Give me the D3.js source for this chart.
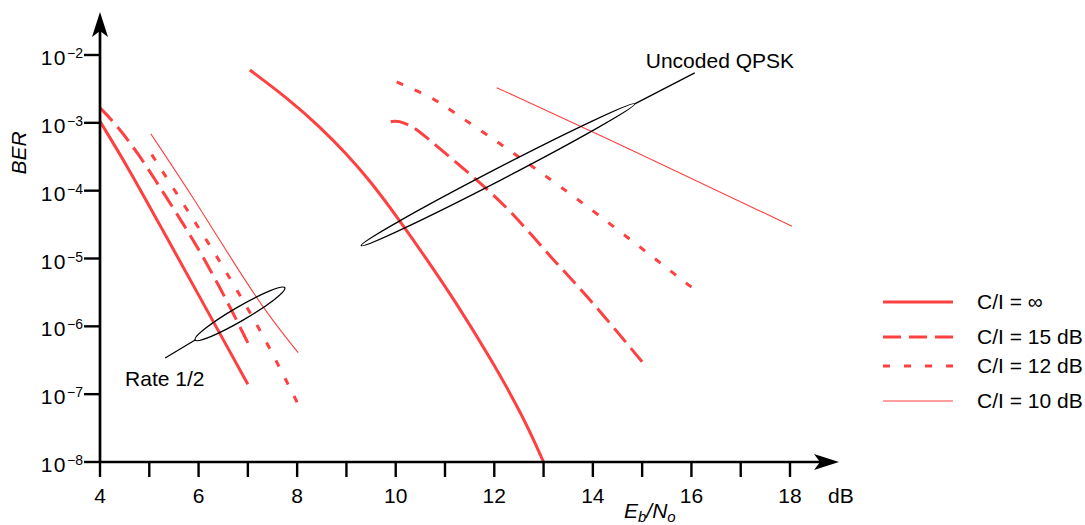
<!DOCTYPE html>
<html>
<head>
<meta charset="utf-8">
<script src="https://cdn.jsdelivr.net/npm/d3@7"></script>
<style>
  html, body { margin: 0; padding: 0; background: #fff; }
  svg { display: block; font-family: "Liberation Sans", Arial, Helvetica, sans-serif; }
</style>
</head>
<body>
<div id="chart"></div>
<script>
// BER vs Eb/No, rate 1/2 coded vs uncoded QPSK, for several C/I values
// values are [Eb/No dB, BER]

const xTicks = [4, 5, 6, 7, 8, 9, 10, 11, 12, 13, 14, 15, 16, 17, 18];
const xTickLabels = [4, 6, 8, 10, 12, 14, 16, 18];
const yExponents = [-8, -7, -6, -5, -4, -3, -2];

const legendLabels = ['C/I = \u221E', 'C/I = 15 dB', 'C/I = 12 dB', 'C/I = 10 dB'];

// rate 1/2 coded
const codedInf = [[4.0, 1.05e-3], [4.57, 2.2e-4], [5.3, 2.4e-5], [6.05, 2.5e-6], [6.58, 5.0e-7], [7.0, 1.4e-7]];
const coded15 = [[4.0, 1.66e-3], [4.3, 1.0e-3], [4.77, 3.6e-4], [5.26, 1.0e-4], [5.72, 3.0e-5], [6.13, 9.5e-6], [6.6, 2.2e-6], [7.0, 5.7e-7]];
const coded12 = [[5.05, 3.4e-4], [5.52, 1.0e-4], [5.93, 3.4e-5], [6.33, 1.2e-5], [6.74, 3.8e-6], [7.29, 8.0e-7], [8.0, 7.6e-8]];
const coded10 = [[5.03, 6.9e-4], [5.93, 7.2e-5], [6.76, 7.6e-6], [7.43, 1.4e-6], [8.02, 4.1e-7]];

// uncoded QPSK
const uncInf = [[7.04, 6.0e-3], [7.79, 2.35e-3], [8.46, 8.8e-4], [9.0, 3.5e-4], [9.48, 1.4e-4], [10.05, 3.9e-5], [10.6, 1.05e-5], [11.24, 2.15e-6], [11.91, 3.5e-7], [12.58, 4.8e-8], [13.0, 1.0e-8]];
const unc15 = [[9.9, 1.04e-3], [10.05, 1.09e-3], [10.35, 8.7e-4], [10.49, 7.4e-4], [11.65, 1.45e-4], [12.38, 4.7e-5], [13.19, 9.5e-6], [13.84, 3.1e-6], [15.0, 3.0e-7]];
const unc12 = [[10.02, 4.0e-3], [10.75, 2.35e-3], [11.04, 1.66e-3], [11.71, 7.9e-4], [12.38, 3.6e-4], [12.66, 2.6e-4], [14.0, 5.2e-5], [15.93, 4.1e-6], [16.0, 3.8e-6]];
const unc10 = [[12.05, 3.3e-3], [14.0, 7.4e-4], [18.04, 3.0e-5]];

// annotation ellipses: two ends in data coords
const uncodedEllipse = [[9.3, 1.55e-5], [14.85, 1.9e-3]];
const codedEllipse = [[5.93, 6.3e-7], [7.75, 3.7e-6]];

const width = 1085, height = 525;
const RED = '#ff4040';
const FS = '21px';

const svg = d3.select('#chart').append('svg')
  .attr('width', width)
  .attr('height', height);

const x = d3.scaleLinear().domain([4, 18]).range([100, 790]);
const y = d3.scaleLog().domain([1e-8, 1e-2]).range([462, 55]);

const styles = [
  {w: 3, dash: null},
  {w: 3, dash: [18, 8]},
  {w: 3, dash: [7, 13]},
  {w: 1.1, dash: null}
];

const line = d3.line()
  .x(d => x(d[0]))
  .y(d => y(d[1]))
  .curve(d3.curveBasis);

const series = [
  [codedInf, 0], [coded15, 1], [coded12, 2], [coded10, 3],
  [uncInf, 0], [unc15, 1], [unc12, 2], [unc10, 3]
];

// stretch the gap a bit so each broken curve starts and ends on a dash
function fitDash(node, dash) {
  if (!dash) return null;
  const L = node.getTotalLength();
  const n = Math.max(2, Math.round((L + dash[1]) / (dash[0] + dash[1])));
  const gap = (L - n * dash[0]) / (n - 1);
  return `${dash[0]},${gap}`;
}

svg.append('g').selectAll('path.curve')
  .data(series)
  .join('path')
  .attr('class', 'curve')
  .attr('d', d => line(d[0]))
  .attr('fill', 'none')
  .attr('stroke', RED)
  .attr('stroke-width', d => styles[d[1]].w)
  .each(function(d) {
    const da = fitDash(this, styles[d[1]].dash);
    if (da) d3.select(this).attr('stroke-dasharray', da);
  });

// axes
const ax = svg.append('g').attr('stroke', '#000');
const x0 = x.range()[0], y0 = y.range()[0];
ax.append('line').attr('x1', x0).attr('x2', 822).attr('y1', y0).attr('y2', y0).attr('stroke-width', 2.7);
ax.append('line').attr('x1', x0).attr('x2', x0).attr('y1', y0 + 1).attr('y2', 30).attr('stroke-width', 2.7);
svg.append('path')
  .attr('d', `M839,${y0} L814,${y0 - 8} L820,${y0} L814,${y0 + 8} Z`)
  .attr('fill', '#000');
svg.append('path')
  .attr('d', `M${x0},12 L${x0 - 8},37 L${x0},31 L${x0 + 8},37 Z`)
  .attr('fill', '#000');

ax.selectAll('line.xt')
  .data(xTicks)
  .join('line')
  .attr('x1', d => x(d)).attr('x2', d => x(d))
  .attr('y1', y0).attr('y2', y0 + 15)
  .attr('stroke-width', 2.4);

ax.selectAll('line.yt')
  .data(yExponents)
  .join('line')
  .attr('x1', x0 - 16).attr('x2', x0)
  .attr('y1', d => y(Math.pow(10, d))).attr('y2', d => y(Math.pow(10, d)))
  .attr('stroke-width', 2.4);

svg.selectAll('text.xl')
  .data(xTickLabels)
  .join('text')
  .attr('x', d => x(d))
  .attr('y', 503)
  .attr('text-anchor', 'middle')
  .style('font-size', FS)
  .text(d => d);

svg.append('text').attr('x', 828).attr('y', 503).style('font-size', FS).text('dB');

const yl = svg.selectAll('text.yl')
  .data(yExponents)
  .join('text')
  .attr('x', 83)
  .attr('y', d => y(Math.pow(10, d)) + 10)
  .attr('text-anchor', 'end')
  .style('font-size', FS);
yl.append('tspan').style('letter-spacing', '1.5px').text('10');
yl.append('tspan').attr('dy', -7).style('font-size', '14px').text(d => '\u2212' + Math.abs(d));

svg.append('text')
  .attr('transform', 'translate(26,153) rotate(-90)')
  .attr('text-anchor', 'middle')
  .style('font-size', FS)
  .style('font-style', 'italic')
  .text('BER');

const xl = svg.append('text')
  .attr('x', 624).attr('y', 518)
  .style('font-size', FS)
  .style('font-style', 'italic');
xl.append('tspan').text('E');
xl.append('tspan').attr('dy', 4).style('font-size', '15px').text('b');
xl.append('tspan').attr('dy', -4).text('/N');
xl.append('tspan').attr('dy', 4).style('font-size', '15px').text('o');

// ellipses + leaders
function drawEllipse(ends, ry) {
  const p1 = [x(ends[0][0]), y(ends[0][1])];
  const p2 = [x(ends[1][0]), y(ends[1][1])];
  const cx = (p1[0] + p2[0]) / 2, cy = (p1[1] + p2[1]) / 2;
  const rx = Math.hypot(p2[0] - p1[0], p2[1] - p1[1]) / 2;
  const ang = Math.atan2(p2[1] - p1[1], p2[0] - p1[0]) * 180 / Math.PI;
  svg.append('ellipse')
    .attr('cx', cx).attr('cy', cy).attr('rx', rx).attr('ry', ry)
    .attr('transform', `rotate(${ang},${cx},${cy})`)
    .attr('fill', 'none').attr('stroke', '#000').attr('stroke-width', 1.3);
  return [p1, p2];
}
const ue = drawEllipse(uncodedEllipse, 6);
const ce = drawEllipse(codedEllipse, 7);

svg.append('line')
  .attr('x1', ue[1][0]).attr('y1', ue[1][1])
  .attr('x2', ue[1][0] + 60).attr('y2', ue[1][1] - 31)
  .attr('stroke', '#000').attr('stroke-width', 1.3);
svg.append('text')
  .attr('x', ue[1][0] + 11).attr('y', ue[1][1] - 36)
  .style('font-size', FS)
  .text('Uncoded QPSK');

svg.append('line')
  .attr('x1', ce[0][0]).attr('y1', ce[0][1])
  .attr('x2', ce[0][0] - 30).attr('y2', ce[0][1] + 18)
  .attr('stroke', '#000').attr('stroke-width', 1.3);
svg.append('text')
  .attr('x', ce[0][0] - 70).attr('y', ce[0][1] + 46)
  .style('font-size', FS)
  .text('Rate 1/2');

// legend
const legendY = [302, 337, 366, 401];
const lg = svg.append('g').selectAll('g')
  .data(legendLabels)
  .join('g')
  .attr('transform', (d, i) => `translate(883,${legendY[i]})`);
lg.append('line')
  .attr('x1', 0).attr('x2', 70)
  .attr('stroke', RED)
  .attr('stroke-width', (d, i) => styles[i].w)
  .each(function(d, i) {
    const da = fitDash(this, styles[i].dash);
    if (da) d3.select(this).attr('stroke-dasharray', da);
  });
lg.append('text')
  .attr('x', 94).attr('y', 7)
  .style('font-size', FS)
  .text(d => d);
</script>
</body>
</html>
